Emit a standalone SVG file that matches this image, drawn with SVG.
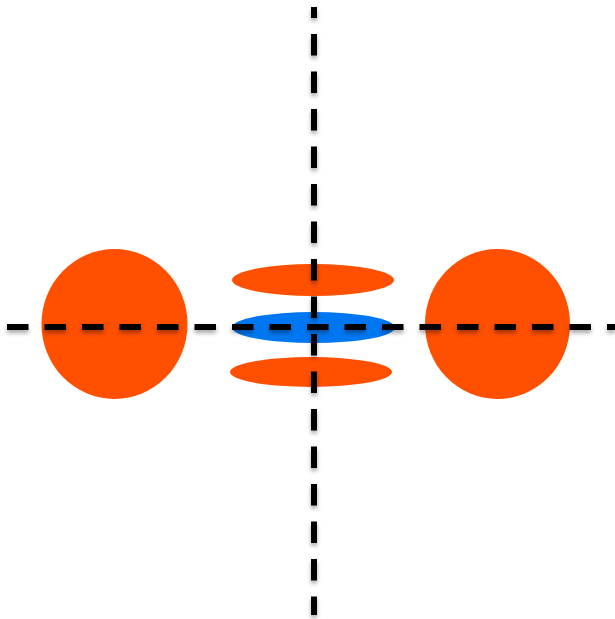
<svg xmlns="http://www.w3.org/2000/svg" width="615" height="619" viewBox="0 0 615 619">
<style>
.orange{fill:#FF4F00}
.blue{fill:#0077F2}
.axis{stroke:#000;stroke-width:6;stroke-dasharray:21.5 16;fill:none;filter:url(#sh)}
</style>
<defs>
<filter id="sh" filterUnits="userSpaceOnUse" x="0" y="0" width="615" height="619">
<feDropShadow dx="0" dy="3" stdDeviation="2" flood-color="#000" flood-opacity="0.35"/>
</filter>
</defs>
<rect width="615" height="619" fill="#fff"/>
<g id="circle-left"><ellipse class="orange" cx="114.5" cy="324" rx="73" ry="75"/></g>
<g id="circle-right"><ellipse class="orange" cx="497.5" cy="324" rx="72.5" ry="75"/></g>
<g id="ellipse-top"><ellipse class="orange" cx="313" cy="280" rx="81" ry="16"/></g>
<g id="ellipse-middle"><ellipse class="blue" cx="313.5" cy="327.5" rx="81.5" ry="15.5"/></g>
<g id="ellipse-bottom"><ellipse class="orange" cx="311" cy="372" rx="81" ry="15"/></g>
<g id="connectors">
<line class="axis" x1="7" y1="327" x2="615" y2="327"/>
<line class="axis" x1="314" y1="7" x2="314" y2="615" stroke-dashoffset="10.5"/>
</g>
</svg>
